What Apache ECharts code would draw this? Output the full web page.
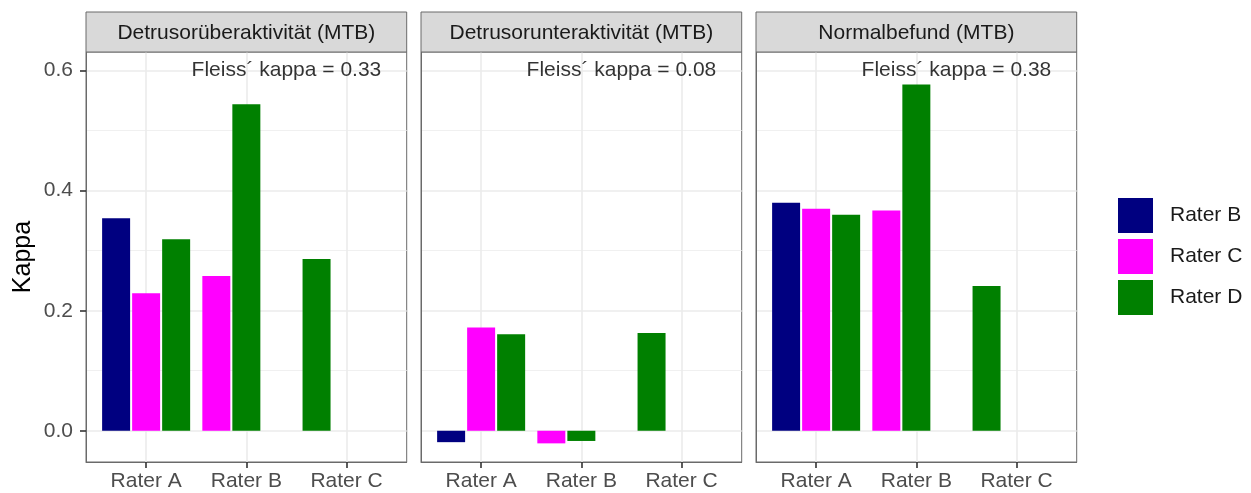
<!DOCTYPE html>
<html>
<head>
<meta charset="utf-8">
<script src="https://cdn.jsdelivr.net/npm/echarts@6/dist/echarts.min.js"></script>
<style>
  html, body { margin: 0; padding: 0; background: #ffffff; }
  #chart { width: 1251px; height: 493px; }
</style>
</head>
<body>
<div id="chart"></div>
<script>
// Categories on the x axis of every facet
const categories = ['Rater A', 'Rater B', 'Rater C'];
// Facet titles
const panelTitles = ['Detrusorüberaktivität (MTB)', 'Detrusorunteraktivität (MTB)', 'Normalbefund (MTB)'];
// Fill groups (compared rater)
const raterNames = ['Rater B', 'Rater C', 'Rater D'];
const raterColors = ['#000080', '#ff00ff', '#008000'];

// Pairwise kappa, Detrusorüberaktivität
const overRaterB = [0.354, null, null];
const overRaterC = [0.229, 0.258, null];
const overRaterD = [0.319, 0.544, 0.286];
// Pairwise kappa, Detrusorunteraktivität
const underRaterB = [-0.019, null, null];
const underRaterC = [0.172, -0.021, null];
const underRaterD = [0.161, -0.017, 0.163];
// Pairwise kappa, Normalbefund
const normalRaterB = [0.380, null, null];
const normalRaterC = [0.370, 0.367, null];
const normalRaterD = [0.360, 0.577, 0.241];

// Fleiss' kappa per facet
const fleissKappa = [0.33, 0.08, 0.38];

// Y axis tick values
const yMajorTicks = [0, 0.2, 0.4, 0.6];
const yMinorTicks = [0.1, 0.3, 0.5];

const panelValues = [
  [overRaterB, overRaterC, overRaterD],
  [underRaterB, underRaterC, underRaterD],
  [normalRaterB, normalRaterC, normalRaterD]
];

// Layout of the facet panels (pixels)
const panelLeft = [86, 421, 756];
const panelWidth = 320.7;
const panelTop = 52;
const panelHeight = 410;
const stripTop = 12;
const stripHeight = 40;
const FONT = "'Liberation Sans', Arial, Helvetica, sans-serif";
const FRAME = '#6a6a6a';
const TICK = '#333333';

// Annotation position in data units
const annotX = 2.4;
const annotY = 0.6;

// Shared y range, padded by 5% on both sides (fixed scales)
const allValues = panelValues.flat(2).filter(v => v != null);
const lo = Math.min(0, ...allValues);
const hi = Math.max(annotY, ...allValues);
const pad = 0.05 * (hi - lo);
const yMin = lo - pad;
const yMax = hi + pad;

// Dodge slots: bars within a category are packed from the left,
// missing raters leave no gap (dodge with preserve = "single")
function panelBarSeries(p) {
  const slots = [[], [], []];
  categories.forEach((cat, ci) => {
    let k = 0;
    panelValues[p].forEach((arr, ri) => {
      const v = arr[ci];
      if (v == null) return;
      slots[k].push({
        name: raterNames[ri],
        value: [ci + 1, v],
        itemStyle: { color: raterColors[ri] }
      });
      k++;
    });
  });
  return slots.map(d => ({
    type: 'bar',
    xAxisIndex: p,
    yAxisIndex: p,
    data: d,
    barWidth: 28,
    barGap: '7.2%',
    silent: true,
    animation: false
  }));
}

const grids = panelLeft.map(x => ({
  left: x, top: panelTop, width: panelWidth, height: panelHeight,
  show: true, borderColor: FRAME, borderWidth: 1,
  outerBoundsMode: 'none'
}));

const xAxes = panelLeft.map((x, p) => ({
  type: 'value', gridIndex: p, min: 0.4, max: 3.6, position: 'bottom',
  axisLine: { show: true, onZero: false, lineStyle: { color: FRAME, width: 1 } },
  axisTick: { show: true, customValues: [1, 2, 3], length: 6, lineStyle: { color: TICK, width: 1.6 } },
  axisLabel: {
    customValues: [1, 2, 3], margin: 9,
    formatter: v => categories[Math.round(v) - 1],
    fontSize: 21, fontFamily: FONT, color: '#4d4d4d'
  },
  splitLine: { show: true, lineStyle: { color: '#ebebeb', width: 1.6 } }
}));

// Major gridlines (and, on the first facet, ticks, labels and title)
const yMajorAxes = panelLeft.map((x, p) => ({
  type: 'value', gridIndex: p, min: yMin, max: yMax, position: 'left',
  axisLine: { show: true, onZero: false, lineStyle: { color: FRAME, width: 1 } },
  axisTick: { show: p === 0, customValues: yMajorTicks, length: 6, lineStyle: { color: TICK, width: 1.6 } },
  axisLabel: {
    show: p === 0, customValues: yMajorTicks, margin: 13,
    formatter: v => v.toFixed(1),
    fontSize: 21, fontFamily: FONT, color: '#4d4d4d'
  },
  splitLine: { show: true, lineStyle: { color: '#ebebeb', width: 1.6 } },
  name: p === 0 ? 'Kappa' : '',
  nameLocation: 'middle',
  nameRotate: 90,
  nameGap: 50,
  nameTextStyle: { fontSize: 25, fontFamily: FONT, color: '#000000' }
}));

// Minor gridlines
const yMinorAxes = panelLeft.map((x, p) => ({
  type: 'value', gridIndex: p, min: yMin, max: yMax, position: 'left',
  axisLine: { show: false, onZero: false },
  axisTick: { show: false, customValues: yMinorTicks },
  axisLabel: { show: false, customValues: yMinorTicks },
  splitLine: { show: true, lineStyle: { color: '#f0f0f0', width: 1 } }
}));

const series = [];
panelLeft.forEach((x, p) => {
  series.push(...panelBarSeries(p));
  series.push({
    type: 'scatter',
    xAxisIndex: p, yAxisIndex: p,
    data: [[annotX, annotY]],
    symbolSize: 1,
    itemStyle: { color: 'rgba(0,0,0,0)' },
    silent: true,
    animation: false,
    label: {
      show: true, position: 'inside',
      formatter: 'Fleiss\u00b4 kappa = ' + fleissKappa[p].toFixed(2),
      fontSize: 21, fontFamily: FONT, color: '#000000'
    }
  });
});
// Legend entries
raterNames.forEach((name, ri) => {
  series.push({
    type: 'scatter', name: name, xAxisIndex: 0, yAxisIndex: 0, data: [],
    itemStyle: { color: raterColors[ri], opacity: 1 }
  });
});

const graphics = [];
panelLeft.forEach((x, p) => {
  graphics.push({
    type: 'rect', z: 10,
    shape: { x: x, y: stripTop, width: panelWidth, height: stripHeight },
    style: { fill: '#d9d9d9', stroke: FRAME, lineWidth: 1 }
  });
  graphics.push({
    type: 'text', z: 11,
    x: x + panelWidth / 2, y: stripTop + stripHeight / 2 + 1,
    style: {
      text: panelTitles[p], fill: '#1a1a1a', fontSize: 21, fontFamily: FONT,
      align: 'center', verticalAlign: 'middle'
    }
  });
});

const chart = echarts.init(document.getElementById('chart'), null, { renderer: 'canvas' });
chart.setOption({
  animation: false,
  backgroundColor: '#ffffff',
  grid: grids,
  xAxis: xAxes,
  yAxis: yMajorAxes.concat(yMinorAxes),
  legend: {
    data: raterNames,
    orient: 'vertical',
    left: 1118, top: 198,
    padding: 0,
    itemWidth: 35, itemHeight: 35, itemGap: 6,
    icon: 'rect',
    selectedMode: false,
    itemStyle: { opacity: 1 },
    textStyle: { fontSize: 21, fontFamily: FONT, color: '#1a1a1a', padding: [0, 0, 0, 12] }
  },
  graphic: graphics,
  series: series
});
</script>
</body>
</html>
